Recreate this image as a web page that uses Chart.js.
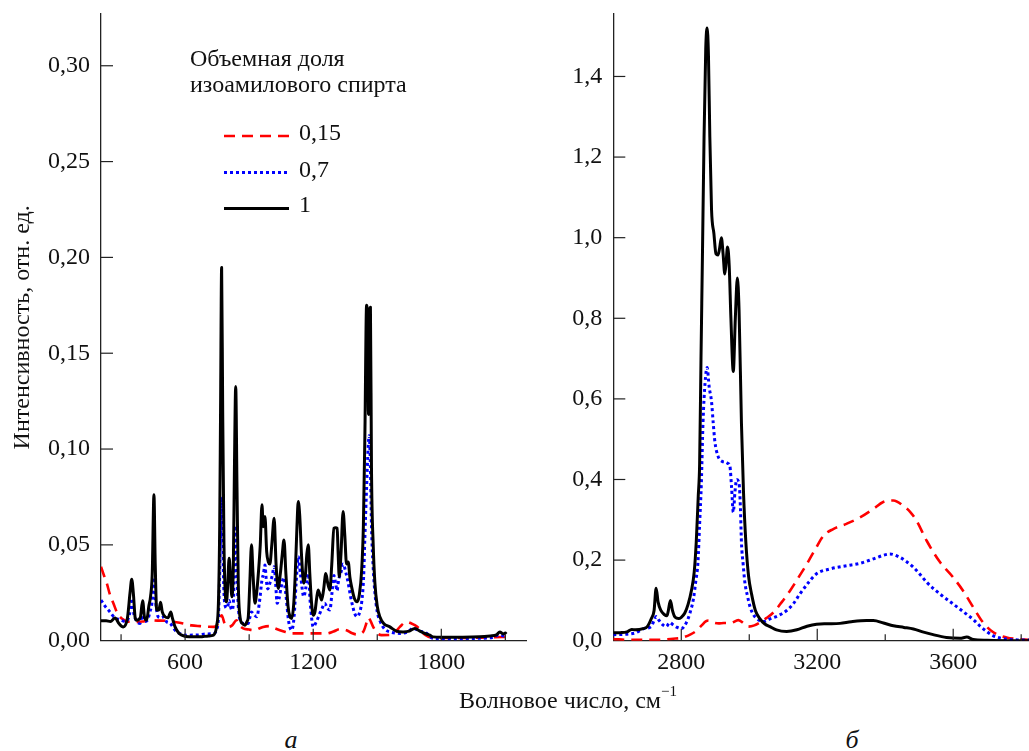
<!DOCTYPE html>
<html>
<head>
<meta charset="utf-8">
<script src="https://cdn.jsdelivr.net/npm/chart.js@4.4.0/dist/chart.umd.min.js"></script>
<style>
  html, body { margin:0; padding:0; background:#fff; }
  #wrap { position:relative; width:1029px; height:751px; overflow:hidden; font-family:"Liberation Serif", "DejaVu Serif", serif; color:#111; }
  canvas { position:absolute; top:0; }
  .lbl { position:absolute; transform:translate(-50%,-50%); white-space:nowrap; font-size:24px; }
  .it { font-style:italic; font-size:26px; }
</style>
</head>
<body>
<div id="wrap">
  <canvas id="cA" width="540" height="700" style="left:0px;width:540px;height:700px"></canvas>
  <canvas id="cB" width="489" height="700" style="left:540px;width:489px;height:700px"></canvas>
  <div class="lbl" style="left:568px;top:700px">Волновое число, см<sup style="font-size:15px;position:relative;top:-3px">−1</sup></div>
  <div class="lbl it" style="left:291px;top:740px">а</div>
  <div class="lbl it" style="left:852px;top:740px">б</div>
</div>
<script>
// ---------- Panel а (200–2200 cm-1) ----------
const aWave1 = [206,230,250,272,290,310,330,342,350,358,366,373,390,401,410,420,430,438,446,454,460,467,477,485,493,506,520,533,540,553,570,584,620,670,710,733,748,756,762,766,771,776,782,788,794,800,806,812,819,826,831,837,843,849,857,868,880,890,896,903,911,918,927,935,943,952,960,966,974,982,990,997,1006,1017,1026,1036,1046,1055,1063,1072,1082,1091,1099,1108,1116,1124,1130,1137,1145,1156,1164,1170,1177,1184,1192,1200,1208,1216,1223,1231,1239,1248,1259,1268,1278,1287,1297,1305,1312,1317,1322,1330,1340,1348,1356,1364,1372,1380,1393,1406,1416,1427,1435,1442,1450,1455,1459,1463,1468,1473,1481,1489,1500,1512,1530,1559,1590,1621,1650,1676,1700,1730,1746,1761,1800,1900,1980,2030,2058,2074,2090,2100,2105];
const aInt1  = [0.0104,0.0104,0.010,0.0118,0.009,0.0072,0.012,0.025,0.032,0.024,0.012,0.0107,0.012,0.0208,0.012,0.0107,0.018,0.023,0.035,0.0761,0.040,0.016,0.016,0.020,0.015,0.0125,0.012,0.015,0.012,0.0072,0.004,0.0029,0.002,0.002,0.0025,0.0029,0.008,0.0195,0.06,0.12,0.1947,0.12,0.05,0.025,0.0203,0.03,0.043,0.035,0.0229,0.04,0.09,0.1327,0.08,0.03,0.0125,0.009,0.0081,0.010,0.0125,0.03,0.050,0.035,0.0195,0.025,0.035,0.050,0.0709,0.0595,0.0648,0.0465,0.041,0.040,0.050,0.0639,0.040,0.0273,0.035,0.045,0.0526,0.035,0.018,0.0125,0.0116,0.018,0.035,0.060,0.0726,0.065,0.045,0.030,0.035,0.045,0.050,0.035,0.020,0.0133,0.015,0.022,0.0264,0.024,0.0212,0.026,0.035,0.030,0.0264,0.040,0.0587,0.059,0.0587,0.045,0.0334,0.045,0.0674,0.055,0.040,0.041,0.033,0.028,0.022,0.0203,0.024,0.0369,0.060,0.1066,0.175,0.165,0.118,0.165,0.174,0.089,0.050,0.030,0.018,0.0125,0.009,0.0072,0.005,0.0046,0.005,0.0064,0.005,0.0035,0.0029,0.002,0.0018,0.0018,0.002,0.0025,0.003,0.0046,0.0035,0.004,0.0035];

const aWave07 = [206,225,248,270,295,320,340,350,360,375,389,401,412,425,435,445,454,462,474,490,500,514,530,553,580,607,660,700,733,748,756,762,766,771,776,782,788,794,800,806,812,819,826,831,837,843,849,857,875,896,903,911,920,936,948,960,967,974,980,987,997,1008,1017,1024,1031,1040,1050,1063,1068,1074,1085,1099,1110,1120,1130,1140,1156,1166,1177,1186,1200,1215,1230,1242,1254,1266,1278,1288,1297,1305,1312,1317,1322,1331,1340,1352,1364,1375,1385,1395,1406,1418,1427,1436,1442,1450,1457,1462,1467,1473,1481,1489,1500,1512,1535,1559,1606,1640,1668,1700,1730,1761,1850,1950,2030,2074,2090,2105];
const aInt07  = [0.0212,0.018,0.015,0.012,0.011,0.010,0.014,0.022,0.014,0.010,0.009,0.015,0.010,0.011,0.015,0.020,0.033,0.020,0.0125,0.012,0.0125,0.0098,0.009,0.0055,0.0035,0.0029,0.003,0.0035,0.0038,0.006,0.012,0.035,0.055,0.075,0.05,0.025,0.018,0.017,0.018,0.021,0.018,0.016,0.020,0.040,0.060,0.035,0.018,0.011,0.009,0.009,0.012,0.015,0.014,0.0125,0.020,0.0316,0.035,0.0395,0.032,0.027,0.030,0.034,0.0386,0.030,0.0195,0.022,0.028,0.033,0.028,0.022,0.010,0.0055,0.012,0.030,0.0438,0.035,0.023,0.028,0.035,0.020,0.0072,0.010,0.014,0.017,0.0195,0.017,0.016,0.025,0.034,0.030,0.026,0.030,0.033,0.036,0.040,0.036,0.030,0.023,0.018,0.014,0.0125,0.015,0.020,0.033,0.054,0.080,0.100,0.107,0.095,0.060,0.038,0.025,0.015,0.0105,0.006,0.0046,0.0038,0.0045,0.0064,0.005,0.004,0.0012,0.001,0.0012,0.0015,0.003,0.0025,0.002];

const aWave015 = [206,220,233,248,264,284,303,330,358,400,435,470,514,550,591,630,670,710,733,752,771,785,802,820,841,855,872,900,927,950,966,997,1020,1044,1070,1091,1138,1200,1263,1295,1325,1356,1380,1403,1434,1446,1458,1470,1481,1500,1520,1559,1585,1606,1637,1660,1676,1700,1715,1740,1761,1850,1950,2050,2100];
const aInt015  = [0.0386,0.034,0.030,0.024,0.0195,0.014,0.0116,0.010,0.0098,0.010,0.0107,0.0105,0.0104,0.0098,0.009,0.008,0.0076,0.0073,0.0072,0.0085,0.0133,0.009,0.0072,0.008,0.0107,0.008,0.0064,0.0058,0.0055,0.0065,0.0072,0.0076,0.0065,0.0055,0.0045,0.0038,0.0038,0.0038,0.0038,0.0048,0.006,0.0055,0.004,0.0033,0.0046,0.008,0.0121,0.010,0.0072,0.004,0.0029,0.003,0.0045,0.0072,0.0098,0.009,0.0081,0.006,0.0038,0.002,0.0015,0.0015,0.0015,0.0018,0.002];

const aXTicksMajor = [600,1200,1800];
const aXTicksMinor = [300,900,1500,2100];
const aYTicks = [0,0.05,0.10,0.15,0.20,0.25,0.30];

// ---------- Panel б (2600–3820 cm-1) ----------
const bWave1 = [2600,2620,2640,2654,2665,2688,2700,2712,2720,2726,2732,2740,2750,2758,2762,2768,2774,2782,2792,2800,2810,2820,2830,2838,2844,2850,2854,2858,2862,2867,2872,2876,2880,2884,2889,2896,2902,2908,2913,2918,2923,2928,2932,2936,2941,2946,2953,2959,2965,2970,2977,2983,2990,2998,3007,3018,3031,3045,3061,3080,3110,3140,3170,3198,3230,3267,3300,3345,3365,3395,3424,3455,3483,3510,3541,3580,3620,3640,3659,3700,3757,3823];
const bInt1  = [0.0195,0.020,0.022,0.028,0.027,0.030,0.035,0.055,0.075,0.13,0.095,0.075,0.065,0.062,0.075,0.10,0.075,0.058,0.055,0.058,0.068,0.09,0.125,0.17,0.244,0.36,0.44,0.70,0.94,1.25,1.47,1.52,1.45,1.25,1.07,1.01,0.96,0.957,0.975,1.0,0.96,0.91,0.94,0.977,0.93,0.80,0.668,0.80,0.90,0.82,0.54,0.37,0.244,0.16,0.115,0.075,0.055,0.042,0.035,0.027,0.023,0.027,0.036,0.041,0.042,0.043,0.047,0.050,0.050,0.044,0.037,0.033,0.029,0.022,0.015,0.008,0.006,0.009,0.003,0.001,0.0,0.0];

const bWave07 = [2600,2640,2667,2690,2711,2720,2726,2735,2745,2756,2766,2775,2788,2800,2815,2826,2836,2843,2849,2854,2859,2864,2870,2876,2882,2889,2894,2899,2908,2920,2931,2937,2943,2948,2953,2958,2963,2970,2974,2977,2982,2987,2995,3002,3012,3022,3040,3061,3085,3110,3130,3149,3175,3198,3237,3286,3326,3365,3395,3414,3443,3463,3483,3502,3522,3561,3600,3639,3660,3678,3700,3718,3757,3790,3823];
const bInt07  = [0.015,0.016,0.02,0.03,0.035,0.05,0.06,0.05,0.04,0.035,0.045,0.04,0.033,0.03,0.045,0.07,0.105,0.15,0.194,0.29,0.39,0.543,0.64,0.678,0.63,0.593,0.54,0.493,0.458,0.445,0.443,0.44,0.433,0.38,0.319,0.37,0.40,0.39,0.33,0.244,0.19,0.145,0.11,0.085,0.065,0.055,0.047,0.054,0.062,0.075,0.092,0.116,0.145,0.166,0.178,0.186,0.192,0.203,0.212,0.215,0.207,0.196,0.182,0.165,0.145,0.116,0.091,0.066,0.052,0.037,0.022,0.012,0.004,0.002,0.002];

const bWave015 = [2600,2650,2700,2750,2776,2800,2826,2845,2860,2872,2880,2895,2910,2925,2945,2968,2985,2997,3015,3031,3050,3071,3095,3120,3145,3169,3195,3218,3247,3286,3326,3365,3394,3424,3453,3475,3492,3522,3561,3600,3629,3659,3688,3718,3757,3790,3823];
const bInt015  = [0.004,0.002,0.002,0.003,0.005,0.007,0.015,0.025,0.038,0.048,0.05,0.045,0.043,0.044,0.044,0.051,0.042,0.035,0.038,0.045,0.056,0.070,0.095,0.124,0.157,0.19,0.228,0.26,0.277,0.29,0.306,0.327,0.344,0.348,0.335,0.318,0.298,0.248,0.195,0.157,0.124,0.083,0.045,0.021,0.008,0.004,0.002];

const bXTicksMajor = [2800,3200,3600];
const bXTicksMinor = [3000,3400,3800];
const bYTicks = [0,0.2,0.4,0.6,0.8,1.0,1.2,1.4];

// ---------- Legend ----------
const legendTitle = ['Объемная доля', 'изоамилового спирта'];
const seriesNames = ['0,15', '0,7', '1'];

// ---------- helpers ----------
const FONT = 'Liberation Serif';
const FS = 24;
const zip = (xs, ys) => xs.map((x, i) => ({x, y: ys[i]}));
const style = {
  s015: {borderColor:'#ff0000', borderWidth:2.6, borderDash:[11,7], order:2},
  s07:  {borderColor:'#0000ff', borderWidth:3, borderDash:[3,3], order:1},
  s1:   {borderColor:'#000000', borderWidth:3, borderDash:[], order:0}
};
function ds(label, xs, ys, st) {
  return Object.assign({label, data: zip(xs, ys), pointRadius:0, fill:false,
    cubicInterpolationMode:'monotone', borderCapStyle:'butt', borderJoinStyle:'round'}, st);
}

const inwardTicks = {
  id: 'inwardTicks',
  afterDatasetsDraw(chart, args, o) {
    const {ctx, chartArea: a, scales: {x, y}} = chart;
    ctx.save();
    ctx.strokeStyle = '#222'; ctx.lineWidth = 1.2;
    const seg = (x1, y1, x2, y2) => { ctx.beginPath(); ctx.moveTo(x1, y1); ctx.lineTo(x2, y2); ctx.stroke(); };
    o.xMajor.forEach(v => { const p = x.getPixelForValue(v); seg(p, a.bottom, p, a.bottom - 12); });
    o.xMinor.forEach(v => { const p = x.getPixelForValue(v); seg(p, a.bottom, p, a.bottom - 6.5); });
    o.yMajor.forEach(v => { if (v === 0) return; const p = y.getPixelForValue(v); seg(a.left, p, a.left + 12, p); });
    ctx.restore();
  }
};

const legendPlugin = {
  id: 'customLegend',
  afterDraw(chart, args, o) {
    if (!o.show) return;
    const ctx = chart.ctx;
    ctx.save();
    ctx.fillStyle = '#111';
    ctx.font = FS + 'px "' + FONT + '"';
    ctx.textBaseline = 'alphabetic';
    ctx.textAlign = 'left';
    ctx.fillText(legendTitle[0], 190, 66);
    ctx.fillText(legendTitle[1], 190, 92);
    const ordered = [chart.data.datasets[2], chart.data.datasets[1], chart.data.datasets[0]];
    const rows = [{ly:136, ty:139.5}, {ly:172.5, ty:177}, {ly:208.5, ty:212}];
    ordered.forEach((d, i) => {
      ctx.save();
      ctx.strokeStyle = d.borderColor; ctx.lineWidth = d.borderWidth;
      ctx.setLineDash(d.borderDash || []);
      ctx.lineCap = 'butt';
      ctx.beginPath(); ctx.moveTo(224, rows[i].ly); ctx.lineTo(289, rows[i].ly); ctx.stroke();
      ctx.restore();
      ctx.fillText(seriesNames[i], 299, rows[i].ty);
    });
    ctx.restore();
  }
};

function makeChart(canvasId, cfg) {
  const tickFont = {family: FONT, size: FS};
  return new Chart(document.getElementById(canvasId), {
    type: 'line',
    data: {datasets: cfg.datasets},
    options: {
      responsive: false, animation: false,
      layout: {padding: cfg.padding},
      plugins: {
        legend: {display: false}, tooltip: {enabled: false},
        inwardTicks: {xMajor: cfg.xMajor, xMinor: cfg.xMinor, yMajor: cfg.yTicks},
        customLegend: {show: cfg.legend}
      },
      scales: {
        x: {
          type: 'linear', min: cfg.xMin, max: cfg.xMax,
          afterFit: s => { s.height = cfg.xHeight; s.paddingLeft = 0; s.paddingRight = 0; },
          afterBuildTicks: s => { s.ticks = cfg.xMajor.map(v => ({value: v})); },
          grid: {display: true, drawOnChartArea: false, drawTicks: false},
          border: {display: true, color: '#222', width: 1.3},
          ticks: {autoSkip: false, maxRotation: 0, padding: 8, color: '#111', font: tickFont,
                  callback: v => String(v)}
        },
        y: {
          type: 'linear', min: 0, max: cfg.yMax,
          afterFit: s => { s.width = cfg.yWidth; s.paddingTop = 0; s.paddingBottom = 0; },
          afterBuildTicks: s => { s.ticks = cfg.yTicks.map(v => ({value: v})); },
          grid: {display: true, drawOnChartArea: false, drawTicks: false},
          border: {display: true, color: '#222', width: 1.3},
          ticks: {autoSkip: false, padding: 11, color: '#111', font: tickFont,
                  callback: v => v.toFixed(cfg.yDec).replace('.', ',')},
          title: cfg.yTitle ? {display: true, text: cfg.yTitle, color: '#111',
                  font: {family: FONT, size: FS}, padding: {top: 8, bottom: 0}} : {display: false}
        }
      }
    },
    plugins: [inwardTicks, legendPlugin]
  });
}

makeChart('cA', {
  datasets: [ds('1', aWave1, aInt1, style.s1), ds('0,7', aWave07, aInt07, style.s07), ds('0,15', aWave015, aInt015, style.s015)],
  padding: {top: 14, right: 13.3, left: 0, bottom: 0},
  xMin: 206, xMax: 2200, yMax: 0.327, xHeight: 59.3, yWidth: 101,
  xMajor: aXTicksMajor, xMinor: aXTicksMinor, yTicks: aYTicks, yDec: 2,
  yTitle: 'Интенсивность, отн. ед.', legend: true
});
makeChart('cB', {
  datasets: [ds('1', bWave1, bInt1, style.s1), ds('0,7', bWave07, bInt07, style.s07), ds('0,15', bWave015, bInt015, style.s015)],
  padding: {top: 14, right: 0, left: 0, bottom: 0},
  xMin: 2600, xMax: 3823, yMax: 1.555, xHeight: 59.3, yWidth: 73.3,
  xMajor: bXTicksMajor, xMinor: bXTicksMinor, yTicks: bYTicks, yDec: 1,
  yTitle: null, legend: false
});
</script>
</body>
</html>
